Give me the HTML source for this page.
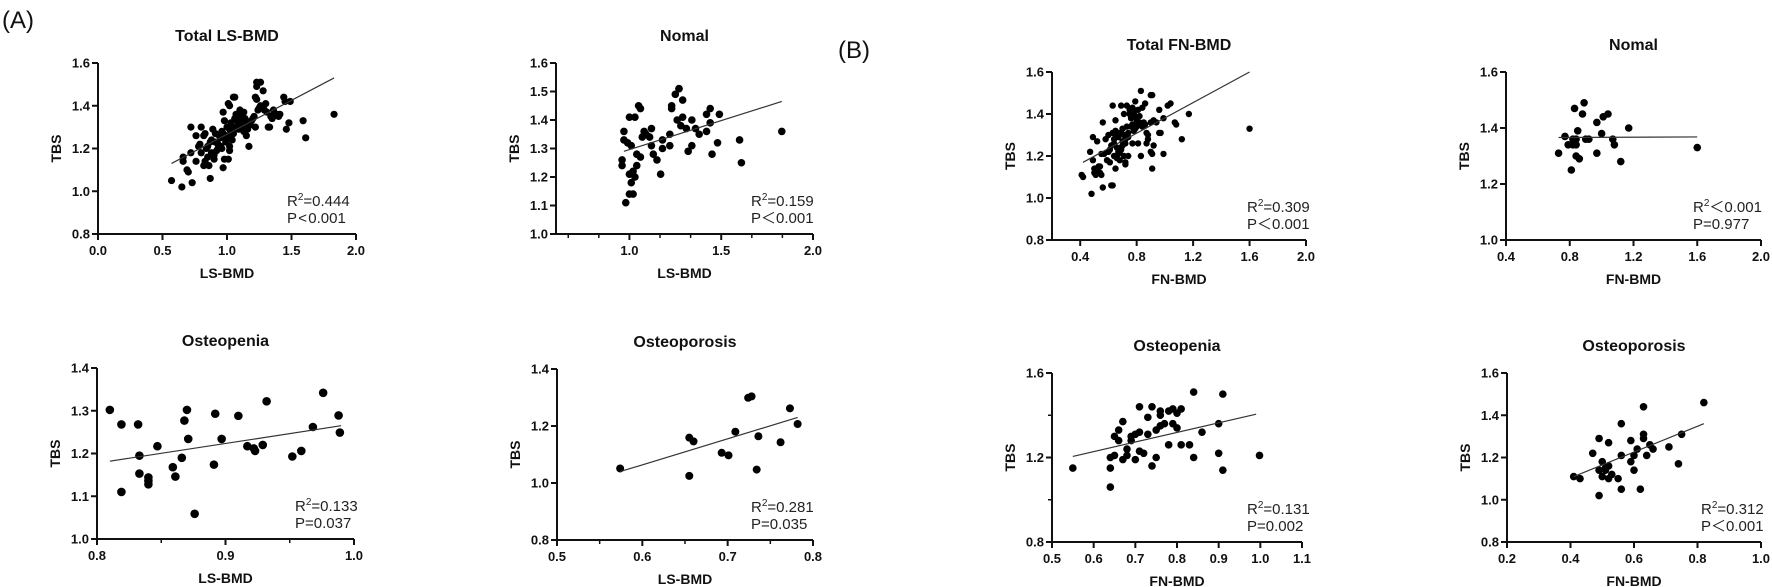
<!DOCTYPE html>
<html><head><meta charset="utf-8">
<style>
html,body{margin:0;padding:0;background:#fff;}
svg{display:block;font-family:"Liberation Sans",Arial,sans-serif;}
.tk{font-size:13px;font-weight:bold;fill:#111;}
.ttl{font-size:16px;font-weight:bold;fill:#111;}
.al{font-size:14px;font-weight:bold;fill:#111;}
.an{font-size:15px;fill:#222;}
</style></head>
<body>
<svg id="fig" width="1772" height="587" viewBox="0 0 1772 587">
<text x="2" y="28" font-size="24" fill="#111">(A)</text>
<text x="838" y="58" font-size="24" fill="#111">(B)</text>
</svg>
<script>
// ---- data ----
const aTotalX=[0.57,0.65,0.66,0.66,0.73,0.72,0.69,0.70,0.76,0.78,0.76,0.80,0.82,0.82,0.87,0.83,0.85,0.85,0.87,0.89,0.91,0.92,0.95,0.95,0.97,0.97,0.97,1.00,1.01,1.02,1.02,1.02,1.04,1.01,1.02,1.05,1.06,1.06,1.08,1.08,1.10,1.11,1.11,1.13,1.13,1.15,1.17,1.18,1.20,1.22,1.23,1.26,1.23,1.22,1.23,1.24,1.26,1.28,1.30,1.31,1.32,1.33,1.36,1.39,1.41,1.44,1.45,1.46,1.48,1.49,1.59,1.61,1.83,0.88,0.90,0.93,0.98,1.00,1.03,1.05,0.94,0.80,0.72,0.86,0.98,1.10,1.14,1.16,1.25,1.28,1.34,1.37,1.40,1.12,1.07,1.00,0.96,0.84,0.88,0.91,0.93,0.99,1.04,1.06,1.09,1.12,1.15,1.19,1.21,0.79,0.83,0.90,0.96,1.03,1.09,1.29,1.35];
const aTotalY=[1.05,1.02,1.16,1.14,1.04,1.30,1.10,1.09,1.14,1.21,1.26,1.30,1.12,1.26,1.06,1.14,1.16,1.21,1.23,1.29,1.23,1.19,1.21,1.25,1.27,1.11,1.37,1.24,1.15,1.19,1.21,1.29,1.24,1.41,1.40,1.44,1.44,1.30,1.36,1.33,1.38,1.34,1.31,1.37,1.28,1.26,1.21,1.31,1.34,1.30,1.51,1.51,1.49,1.44,1.43,1.38,1.40,1.47,1.41,1.37,1.30,1.30,1.38,1.36,1.36,1.44,1.42,1.29,1.32,1.42,1.33,1.25,1.36,1.18,1.15,1.22,1.33,1.30,1.32,1.27,1.26,1.18,1.18,1.12,1.15,1.35,1.34,1.29,1.39,1.39,1.35,1.36,1.35,1.30,1.36,1.26,1.20,1.20,1.24,1.27,1.20,1.23,1.28,1.34,1.32,1.35,1.32,1.33,1.35,1.22,1.27,1.17,1.28,1.25,1.29,1.38,1.34];
const aTotalFitX=[0.57,1.83], aTotalFitY=[1.13,1.53];

const aNomalX=[0.98,0.96,0.96,0.97,0.97,0.99,1.00,1.03,1.00,1.02,1.01,1.00,1.02,1.03,1.04,1.01,1.04,1.05,1.06,1.06,1.07,1.08,1.09,1.11,1.12,1.12,1.13,1.15,1.17,1.18,1.18,1.22,1.22,1.23,1.23,1.25,1.27,1.27,1.26,1.29,1.29,1.28,1.31,1.32,1.34,1.34,1.36,1.38,1.42,1.42,1.44,1.45,1.44,1.48,1.49,1.60,1.61,1.83];
const aNomalY=[1.11,1.24,1.26,1.36,1.33,1.32,1.41,1.41,1.14,1.14,1.18,1.21,1.22,1.20,1.24,1.31,1.28,1.45,1.44,1.27,1.34,1.36,1.35,1.34,1.37,1.31,1.28,1.26,1.21,1.30,1.33,1.35,1.31,1.44,1.45,1.49,1.51,1.51,1.40,1.47,1.41,1.38,1.37,1.29,1.31,1.40,1.37,1.35,1.36,1.42,1.44,1.28,1.39,1.32,1.42,1.33,1.25,1.36];
const aNomalFitX=[0.97,1.83], aNomalFitY=[1.29,1.465];

const aPeniaX=[0.810,0.819,0.819,0.832,0.833,0.833,0.840,0.840,0.840,0.847,0.859,0.861,0.866,0.868,0.870,0.871,0.876,0.891,0.892,0.897,0.910,0.917,0.922,0.923,0.929,0.932,0.952,0.959,0.968,0.976,0.988,0.989];
const aPeniaY=[1.302,1.268,1.110,1.268,1.195,1.153,1.144,1.136,1.128,1.217,1.168,1.146,1.190,1.277,1.302,1.234,1.059,1.174,1.293,1.234,1.288,1.217,1.212,1.206,1.220,1.322,1.193,1.206,1.262,1.342,1.289,1.249];
const aPeniaFitX=[0.81,0.99], aPeniaFitY=[1.182,1.265];

const aPorosisX=[0.574,0.655,0.660,0.655,0.693,0.701,0.709,0.724,0.728,0.736,0.734,0.762,0.773,0.782];
const aPorosisY=[1.051,1.159,1.146,1.025,1.106,1.097,1.180,1.299,1.304,1.164,1.047,1.143,1.262,1.207];
const aPorosisFitX=[0.574,0.782], aPorosisFitY=[1.04,1.23];

const bTotalX=[0.41,0.42,0.47,0.48,0.49,0.49,0.50,0.51,0.53,0.54,0.52,0.55,0.55,0.56,0.56,0.58,0.59,0.61,0.62,0.63,0.63,0.63,0.64,0.64,0.65,0.65,0.65,0.66,0.67,0.67,0.69,0.69,0.70,0.71,0.71,0.72,0.72,0.73,0.74,0.75,0.76,0.77,0.77,0.77,0.78,0.79,0.80,0.81,0.82,0.83,0.83,0.84,0.86,0.87,0.90,0.91,0.91,0.91,0.92,0.94,0.96,0.97,0.99,0.99,1.02,1.04,1.07,1.08,1.12,1.17,1.60,0.60,0.62,0.66,0.68,0.70,0.72,0.76,0.80,0.82,0.84,0.86,0.90,0.88,0.90,0.92,0.96,0.50,0.52,0.54,0.57,0.60,0.61,0.64,0.66,0.67,0.68,0.69,0.70,0.71,0.73,0.74,0.75,0.76,0.78,0.79,0.80,0.81,0.82,0.83,0.85,0.87,0.88,0.65,0.67,0.69,0.72,0.74,0.78,0.79,0.84];
const bTotalY=[1.11,1.10,1.22,1.02,1.29,1.18,1.14,1.11,1.15,1.12,1.27,1.11,1.21,1.36,1.05,1.28,1.18,1.23,1.06,1.06,1.44,1.31,1.28,1.20,1.14,1.32,1.37,1.24,1.29,1.21,1.44,1.31,1.25,1.20,1.40,1.26,1.16,1.44,1.31,1.42,1.38,1.35,1.43,1.26,1.42,1.46,1.37,1.26,1.39,1.51,1.20,1.35,1.45,1.31,1.49,1.49,1.21,1.14,1.37,1.36,1.42,1.31,1.21,1.38,1.44,1.45,1.36,1.35,1.28,1.40,1.33,1.30,1.25,1.30,1.22,1.33,1.28,1.34,1.35,1.36,1.34,1.35,1.36,1.30,1.22,1.25,1.31,1.12,1.13,1.15,1.21,1.22,1.17,1.26,1.19,1.22,1.18,1.23,1.27,1.30,1.34,1.29,1.40,1.41,1.40,1.33,1.34,1.42,1.35,1.35,1.36,1.26,1.28,1.30,1.31,1.24,1.17,1.20,1.32,1.39,1.43,1.33];
const bTotalFitX=[0.42,1.60], bTotalFitY=[1.17,1.60];

const bNomalX=[0.73,0.77,0.81,0.83,0.79,0.82,0.82,0.84,0.84,0.84,0.85,0.86,0.88,0.89,0.90,0.92,0.97,0.97,1.00,1.01,1.04,1.07,1.08,1.12,1.17,1.60];
const bNomalY=[1.31,1.37,1.25,1.47,1.34,1.36,1.34,1.36,1.34,1.30,1.39,1.29,1.45,1.49,1.36,1.36,1.42,1.31,1.38,1.44,1.45,1.36,1.34,1.28,1.40,1.33];
const bNomalFitX=[0.73,1.60], bNomalFitY=[1.366,1.368];

const bPeniaX=[0.55,0.64,0.64,0.64,0.65,0.66,0.65,0.67,0.66,0.67,0.68,0.68,0.69,0.69,0.70,0.70,0.71,0.71,0.71,0.72,0.73,0.73,0.74,0.74,0.75,0.75,0.76,0.76,0.76,0.77,0.78,0.78,0.79,0.79,0.80,0.80,0.81,0.81,0.83,0.84,0.84,0.86,0.90,0.91,0.90,0.91,0.998];
const bPeniaY=[1.15,1.15,1.06,1.20,1.30,1.28,1.21,1.37,1.33,1.19,1.21,1.24,1.30,1.28,1.31,1.19,1.44,1.23,1.32,1.22,1.39,1.31,1.16,1.44,1.20,1.33,1.40,1.35,1.42,1.36,1.26,1.42,1.36,1.43,1.34,1.41,1.43,1.26,1.26,1.20,1.51,1.32,1.36,1.50,1.22,1.14,1.21];
const bPeniaFitX=[0.55,0.99], bPeniaFitY=[1.205,1.405];

const bPorosisX=[0.41,0.43,0.47,0.49,0.49,0.50,0.49,0.50,0.51,0.51,0.52,0.52,0.52,0.53,0.55,0.56,0.56,0.56,0.59,0.59,0.60,0.60,0.61,0.62,0.63,0.63,0.63,0.64,0.65,0.66,0.71,0.74,0.75,0.82];
const bPorosisY=[1.11,1.10,1.22,1.02,1.29,1.18,1.14,1.11,1.14,1.15,1.16,1.27,1.10,1.12,1.10,1.21,1.36,1.05,1.28,1.18,1.14,1.21,1.24,1.05,1.44,1.29,1.31,1.21,1.26,1.24,1.25,1.17,1.31,1.46];
const bPorosisFitX=[0.41,0.82], bPorosisFitY=[1.11,1.36];

// ---- layout ----
const panels=[
 {id:'a-total',title:'Total LS-BMD',xl:'LS-BMD',L:98,R:356,T:63,B:234,x0:0,x1:2,y0:0.8,y1:1.6,xt:[0,0.5,1,1.5,2],xm:[],yt:[0.8,1.0,1.2,1.4,1.6],ym:[],X:aTotalX,Y:aTotalY,FX:aTotalFitX,FY:aTotalFitY,r:3.6,r2:'=0.444',p:'P\u200a<\u200a0.001',ax:69},
 {id:'a-nomal',title:'Nomal',xl:'LS-BMD',L:556,R:813,T:63,B:234,x0:0.6,x1:2,y0:1.0,y1:1.6,xt:[1,1.5,2],xm:[0.6667,0.8333,1.1667,1.3333,1.6667,1.8333],yt:[1.0,1.1,1.2,1.3,1.4,1.5,1.6],ym:[],X:aNomalX,Y:aNomalY,FX:aNomalFitX,FY:aNomalFitY,r:3.8,r2:'=0.159',p:'P\uFF1C0.001',ax:62},
 {id:'a-osteopenia',title:'Osteopenia',xl:'LS-BMD',L:97,R:354,T:368,B:539,x0:0.8,x1:1.0,y0:1.0,y1:1.4,xt:[0.8,0.9,1.0],xm:[0.85,0.95],yt:[1.0,1.1,1.2,1.3,1.4],ym:[],X:aPeniaX,Y:aPeniaY,FX:aPeniaFitX,FY:aPeniaFitY,r:4.3,r2:'=0.133',p:'P=0.037',ax:59},
 {id:'a-osteoporosis',title:'Osteoporosis',xl:'LS-BMD',L:557,R:813,T:369,B:540,x0:0.5,x1:0.8,y0:0.8,y1:1.4,xt:[0.5,0.6,0.7,0.8],xm:[0.55,0.65,0.75],yt:[0.8,1.0,1.2,1.4],ym:[],X:aPorosisX,Y:aPorosisY,FX:aPorosisFitX,FY:aPorosisFitY,r:4.0,r2:'=0.281',p:'P=0.035',ax:62},
 {id:'b-total',title:'Total FN-BMD',xl:'FN-BMD',L:1052,R:1306,T:72,B:240,x0:0.2,x1:2.0,y0:0.8,y1:1.6,xt:[0.4,0.8,1.2,1.6,2.0],xm:[],yt:[0.8,1.0,1.2,1.4,1.6],ym:[],X:bTotalX,Y:bTotalY,FX:bTotalFitX,FY:bTotalFitY,r:3.2,r2:'=0.309',p:'P\uFF1C0.001',ax:59},
 {id:'b-nomal',title:'Nomal',xl:'FN-BMD',L:1506,R:1761,T:72,B:240,x0:0.4,x1:2.0,y0:1.0,y1:1.6,xt:[0.4,0.8,1.2,1.6,2.0],xm:[],yt:[1.0,1.2,1.4,1.6],ym:[],X:bNomalX,Y:bNomalY,FX:bNomalFitX,FY:bNomalFitY,r:3.8,r2:'\uFF1C0.001',p:'P=0.977',ax:68},
 {id:'b-osteopenia',title:'Osteopenia',xl:'FN-BMD',L:1052,R:1302,T:373,B:542,x0:0.5,x1:1.1,y0:0.8,y1:1.6,xt:[0.5,0.6,0.7,0.8,0.9,1.0,1.1],xm:[],yt:[0.8,1.2,1.6],ym:[1.0,1.4],X:bPeniaX,Y:bPeniaY,FX:bPeniaFitX,FY:bPeniaFitY,r:3.8,r2:'=0.131',p:'P=0.002',ax:55},
 {id:'b-osteoporosis',title:'Osteoporosis',xl:'FN-BMD',L:1507,R:1761,T:373,B:542,x0:0.2,x1:1.0,y0:0.8,y1:1.6,xt:[0.2,0.4,0.6,0.8,1.0],xm:[],yt:[0.8,1.0,1.2,1.4,1.6],ym:[],X:bPorosisX,Y:bPorosisY,FX:bPorosisFitX,FY:bPorosisFitY,r:3.8,r2:'=0.312',p:'P\uFF1C0.001',ax:60}
];
const NS='http://www.w3.org/2000/svg';
const svg=document.getElementById('fig');
function mk(tag,attrs,parent){const e=document.createElementNS(NS,tag);for(const k in attrs)e.setAttribute(k,attrs[k]);(parent||svg).appendChild(e);return e;}
panels.forEach(p=>{
  const g=mk('g',{});
  
  
  const sx=v=>p.L+(v-p.x0)/(p.x1-p.x0)*(p.R-p.L);
  const sy=v=>p.B-(v-p.y0)/(p.y1-p.y0)*(p.B-p.T);
  const cx=(p.L+p.R)/2;
  const t=mk('text',{x:cx,y:p.T-22,'text-anchor':'middle',class:'ttl'},g);t.textContent=p.title;
  
  
  const ax=mk('path',{d:`M${p.L},${p.T} V${p.B} H${p.R}`,fill:'none',stroke:'#111','stroke-width':2},g);
  
  
  p.yt.forEach(v=>{const y=sy(v);mk('line',{x1:p.L-6,x2:p.L,y1:y,y2:y,stroke:'#111','stroke-width':2},g);
    const l=mk('text',{x:p.L-8,y:y+4.5,'text-anchor':'end',class:'tk'},g);l.textContent=v.toFixed(1);
    
    });
  p.ym.forEach(v=>{const y=sy(v);mk('line',{x1:p.L-4,x2:p.L,y1:y,y2:y,stroke:'#111','stroke-width':1.5},g);});
  p.xt.forEach(v=>{const x=sx(v);mk('line',{x1:x,x2:x,y1:p.B,y2:p.B+6,stroke:'#111','stroke-width':2},g);
    const l=mk('text',{x:x,y:p.B+21,'text-anchor':'middle',class:'tk'},g);l.textContent=v.toFixed(1);
    
    });
  p.xm.forEach(v=>{const x=sx(v);mk('line',{x1:x,x2:x,y1:p.B,y2:p.B+4,stroke:'#111','stroke-width':1.5},g);});
  const xl=mk('text',{x:cx,y:p.B+44,'text-anchor':'middle',class:'al'},g);xl.textContent=p.xl;
  
  
  const ym=(p.T+p.B)/2, yx=p.L-37;
  const yl=mk('text',{x:yx,y:ym,'text-anchor':'middle',class:'al',transform:`rotate(-90 ${yx} ${ym})`},g);yl.textContent='TBS';
  
  
  p.X.forEach((xv,i)=>{const c=mk('circle',{cx:sx(xv),cy:sy(p.Y[i]),r:p.r,fill:'#000'},g);
    
    });
  const fl=mk('line',{x1:sx(p.FX[0]),y1:sy(p.FY[0]),x2:sx(p.FX[1]),y2:sy(p.FY[1]),stroke:'#333','stroke-width':1.2},g);
  
  
  const a1=mk('text',{x:p.R-p.ax,y:p.B-28,class:'an'},g);
  a1.innerHTML='R<tspan dy="-6" font-size="10">2</tspan><tspan dy="6">'+p.r2+'</tspan>';
  
  
  const a2=mk('text',{x:p.R-p.ax,y:p.B-11,class:'an'},g);a2.textContent=p.p;
  
  
});
</script>
</body></html>
